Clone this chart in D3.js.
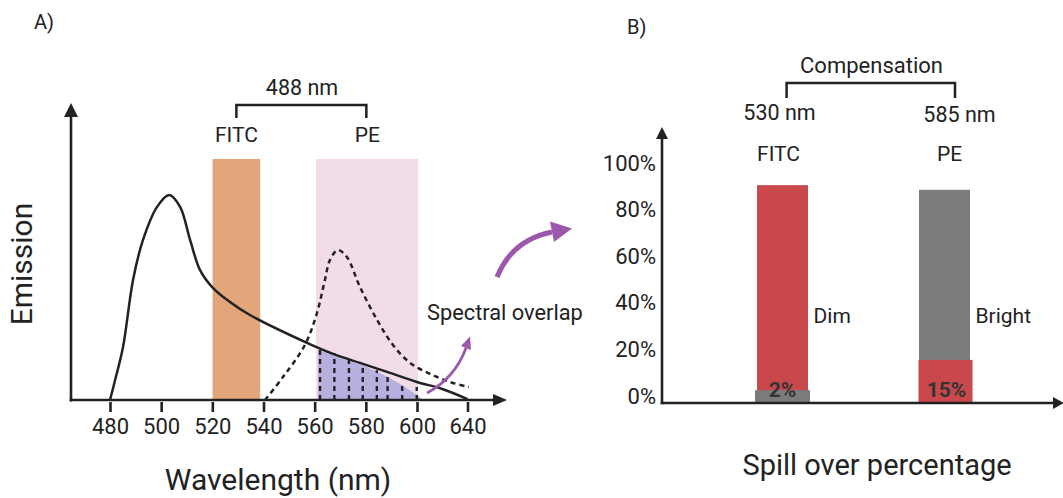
<!DOCTYPE html>
<html>
<head>
<meta charset="utf-8">
<script src="https://cdn.jsdelivr.net/npm/d3@7"></script>
<style>
  html, body { margin: 0; padding: 0; background: #fff; }
  svg { display: block; font-family: Roboto, "Noto Sans", sans-serif; }
</style>
</head>
<body>
<svg id="chart" width="1063" height="498"></svg>
<script>
// ---------- Panel A data ----------
const wlTicks = [480, 500, 520, 540, 560, 580, 600, 640];
const fitcWl = [480, 482, 485.1, 489, 492.9, 498.4, 503.1, 507.4, 511.3, 515.2, 520.3, 526.9, 534.7, 557, 567.2, 577.7, 588.3, 600, 620, 640];
const fitcEm = [0, 6.9, 18.3, 41.4, 55.2, 66.6, 70.7, 66.6, 55.2, 44.8, 38.6, 33.8, 29.3, 19.7, 15.9, 12.8, 9.7, 6.2, 3.8, 0.3];
const peWl = [540.6, 547.6, 556.2, 560.9, 564, 566, 569.1, 572.6, 577.7, 584.4, 590.6, 597.3, 610.3, 626.1, 641];
const peEm = [0, 7.9, 19, 30, 41.4, 48.3, 51.7, 49.3, 39, 27.6, 19, 12.8, 9.0, 6.2, 4.5];
const shadeWl = [561.3, 567.2, 572.6, 578.5, 584.4, 588.6, 594.1, 600, 604.8];
const shadeEm = [17.2, 15.5, 13.8, 12.1, 9.7, 7.9, 5.2, 1.7, 0];
const hatchWl = [562.1, 567.7, 573.4, 578.8, 584.3, 588.5, 594.2, 599.9];
const hatchEm = [17.9, 16.2, 14.5, 12.1, 10.3, 9.3, 5.9, 4.5];
const fitcBand = [520.1, 538.7];
const peBand = [560.5, 600.8];
const bandTop = 83.1;

// ---------- Panel B data ----------
const categories = ["FITC", "PE"];
const mainValues = [93.5, 91.5];
const spillValues = [5.5, 18.5];
const spillLabels = ["2%", "15%"];
const brightness = ["Dim", "Bright"];
const wavelengthsB = ["530 nm", "585 nm"];
const pctTicks = [0, 20, 40, 60, 80, 100];

const RED = "#c8484b", GRAY = "#7c7c7c", INK = "#222";
const svg = d3.select("#chart");
svg.append("rect").attr("width", 1063).attr("height", 498).attr("fill", "#fff");

// ================= PANEL A =================
const xA = d3.scaleLinear().domain([480, 600, 640]).range([110, 417, 467.5]);
const yA = d3.scaleLinear().domain([0, 100]).range([400, 110]);
const gA = svg.append("g");

// filter bands
gA.append("rect").attr("x", xA(peBand[0])).attr("width", xA(peBand[1]) - xA(peBand[0]))
  .attr("y", yA(bandTop)).attr("height", yA(0) - yA(bandTop)).attr("fill", "#f3dcea");
gA.append("rect").attr("x", xA(fitcBand[0])).attr("width", xA(fitcBand[1]) - xA(fitcBand[0]))
  .attr("y", yA(bandTop)).attr("height", yA(0) - yA(bandTop)).attr("fill", "#e3a57a");

// overlap shading
const shade = shadeWl.map((w, i) => [w, shadeEm[i]]);
gA.append("path").datum(shade)
  .attr("d", d3.area().x(d => xA(d[0])).y0(yA(0)).y1(d => yA(d[1])))
  .attr("fill", "#b6b0de");
gA.selectAll(".hatch").data(hatchWl.map((w, i) => [w, hatchEm[i]])).join("line")
  .attr("x1", d => xA(d[0])).attr("x2", d => xA(d[0]))
  .attr("y1", yA(0)).attr("y2", d => yA(d[1]))
  .attr("stroke", INK).attr("stroke-width", 2.4).attr("stroke-dasharray", "5,4");

// curves
const lineA = d3.line().x(d => xA(d[0])).y(d => yA(d[1])).curve(d3.curveCatmullRom.alpha(0.5));
gA.append("path").datum(fitcWl.map((w, i) => [w, fitcEm[i]]))
  .attr("d", lineA).attr("fill", "none").attr("stroke", INK).attr("stroke-width", 2.5);
gA.append("path").datum(peWl.map((w, i) => [w, peEm[i]]))
  .attr("d", lineA).attr("fill", "none").attr("stroke", INK).attr("stroke-width", 2.5)
  .attr("stroke-dasharray", "5,4");

// axes
gA.append("line").attr("x1", 71).attr("x2", 71).attr("y1", 115).attr("y2", 401.5)
  .attr("stroke", INK).attr("stroke-width", 2.6);
gA.append("path").attr("d", "M71,103 L64,117 L78,117 Z").attr("fill", INK);
gA.append("line").attr("x1", 69.7).attr("x2", 496).attr("y1", 400).attr("y2", 400)
  .attr("stroke", INK).attr("stroke-width", 2.6);
gA.append("path").attr("d", "M507,400 L493,394 L493,406 Z").attr("fill", INK);

const axA = d3.axisBottom(xA).tickValues(wlTicks).tickFormat(d3.format("d")).tickSize(10).tickPadding(0);
const gAx = gA.append("g").attr("transform", "translate(0,402)").call(axA);
gAx.select(".domain").remove();
gAx.selectAll(".tick line").attr("stroke", INK).attr("stroke-width", 2.6);
gAx.selectAll(".tick text").attr("font-size", 22).attr("fill", INK).attr("font-family", "Roboto")
  .attr("dy", null).attr("y", 32);

// labels
const tA = (x, y, s, size, anchor) => gA.append("text").attr("x", x).attr("y", y).text(s)
  .attr("font-size", size).attr("fill", INK).attr("text-anchor", anchor || "middle");
tA(34, 29, "A)", 20, "start");
tA(302, 95, "488 nm", 21.5);
tA(xA(529.4), 142, "FITC", 21);
tA(xA(580.6), 142, "PE", 21);
gA.append("path").attr("d", `M${xA(529.4)},118 V105 H${xA(580.2)} V118`)
  .attr("fill", "none").attr("stroke", INK).attr("stroke-width", 2.5);
gA.append("text").attr("transform", "translate(32,264) rotate(-90)").attr("text-anchor", "middle")
  .attr("font-size", 30).attr("fill", INK).text("Emission");
tA(278, 490, "Wavelength (nm)", 30);
tA(427, 320, "Spectral overlap", 21.8, "start");

// purple arrows
const PURPLE = "#9b58ac";
svg.append("path").attr("d", "M427,393 Q455,378 466,348").attr("fill", "none")
  .attr("stroke", PURPLE).attr("stroke-width", 2.8);
svg.append("path").attr("d", "M470,336.5 L461,346 L471,350 Z").attr("fill", PURPLE);
svg.append("path").attr("d", "M497,277 Q512,240 552,232").attr("fill", "none")
  .attr("stroke", PURPLE).attr("stroke-width", 5);
svg.append("path").attr("d", "M572,228.5 L550,221.5 L554,242 Z").attr("fill", PURPLE);

// ================= PANEL B =================
const gB = svg.append("g");
const xB = d3.scalePoint().domain(categories).range([782.5, 944.5]);
const yB = d3.scaleLinear().domain([0, 100]).range([403, 170]);
const mainColors = [RED, GRAY], spillColors = [GRAY, RED];

gB.selectAll(".main").data(categories).join("rect")
  .attr("x", d => xB(d) - 25.5).attr("width", 51)
  .attr("y", (d, i) => yB(mainValues[i])).attr("height", (d, i) => yB(0) - yB(mainValues[i]))
  .attr("fill", (d, i) => mainColors[i]);
gB.selectAll(".spill").data(categories).join("rect")
  .attr("x", (d, i) => xB(d) - (i === 0 ? 27.5 : 26)).attr("width", (d, i) => i === 0 ? 55 : 54)
  .attr("y", (d, i) => yB(spillValues[i])).attr("height", (d, i) => yB(0) - yB(spillValues[i]))
  .attr("fill", (d, i) => spillColors[i]);
gB.selectAll(".spillLbl").data(categories).join("text")
  .attr("x", (d, i) => xB(d) + (i === 0 ? 0 : 2)).attr("y", 397)
  .attr("text-anchor", "middle").attr("font-size", 21).attr("font-weight", "bold")
  .attr("fill", "#333").text((d, i) => spillLabels[i]);

// axes B
gB.append("line").attr("x1", 662).attr("x2", 662).attr("y1", 136).attr("y2", 404.3)
  .attr("stroke", INK).attr("stroke-width", 2.6);
gB.append("path").attr("d", "M662,127 L656,139 L668,139 Z").attr("fill", INK);
gB.append("line").attr("x1", 660.7).attr("x2", 1056).attr("y1", 403).attr("y2", 403)
  .attr("stroke", INK).attr("stroke-width", 2.6);
gB.append("path").attr("d", "M1064,403 L1053,397 L1053,409 Z").attr("fill", INK);

const axB = d3.axisLeft(yB).tickValues(pctTicks).tickFormat(d => d + "%").tickSize(0).tickPadding(0);
const gBy = gB.append("g").attr("transform", "translate(656,0)").call(axB);
gBy.select(".domain").remove();
gBy.selectAll(".tick text").attr("font-size", 22).attr("fill", INK).attr("font-family", "Roboto")
  .attr("dy", null).attr("y", 0).attr("x", 0);

const tB = (x, y, s, size, anchor) => gB.append("text").attr("x", x).attr("y", y).text(s)
  .attr("font-size", size).attr("fill", INK).attr("text-anchor", anchor || "middle");
tB(627, 34, "B)", 20, "start");
tB(871.5, 73, "Compensation", 22);
gB.append("path").attr("d", "M786.6,98 V83 H955 V98").attr("fill", "none")
  .attr("stroke", INK).attr("stroke-width", 2.5);
gB.selectAll(".wl").data(categories).join("text")
  .attr("x", (d, i) => xB(d) + (i === 0 ? -3 : 15)).attr("y", (d, i) => i === 0 ? 120 : 122)
  .attr("text-anchor", "middle").attr("font-size", 21.5).attr("fill", INK)
  .text((d, i) => wavelengthsB[i]);
gB.selectAll(".cat").data(categories).join("text")
  .attr("x", (d, i) => xB(d) + (i === 0 ? -4 : 5)).attr("y", 161)
  .attr("text-anchor", "middle").attr("font-size", 21).attr("fill", INK).text(d => d);
gB.selectAll(".bright").data(categories).join("text")
  .attr("x", d => xB(d) + 31).attr("y", 323)
  .attr("font-size", 21).attr("fill", INK).text((d, i) => brightness[i]);
tB(877, 475, "Spill over percentage", 29);
</script>
</body>
</html>
